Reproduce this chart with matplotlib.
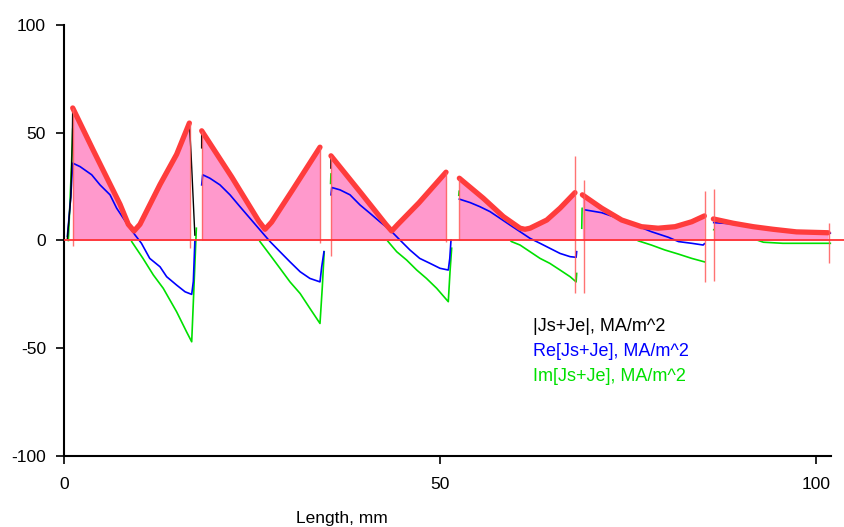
import matplotlib
matplotlib.use("Agg")
import matplotlib.pyplot as plt

plt.rcParams['font.family'] = ['Liberation Sans', 'DejaVu Sans']
plt.rcParams['axes.unicode_minus'] = False

# |Js+Je| smoothed envelope (red thick + pink fill), one list per conductor segment
abs_x = [
    [1.16, 3.9, 7.45, 8.55, 9.31, 10.1, 12.77, 14.98, 16.67],
    [18.31, 22.3, 25.9, 26.73, 27.6, 30.4, 34.04],
    [35.5, 39.5, 42.8, 43.57, 44.4, 47.2, 50.8],
    [52.57, 55.76, 58.42, 60.64, 61.3, 61.97, 64.2, 65.96, 67.95],
    [68.93, 71.5, 74.16, 76.8, 79.0, 81.25, 83.47, 85.15],
    [86.35, 89.0, 91.67, 94.3, 97.4, 101.6],
]
abs_y = [
    [61.5, 41.8, 16.8, 7.5, 4.4, 7.5, 26.0, 40.0, 54.5],
    [50.9, 29.5, 9.0, 5.2, 8.5, 23.5, 43.3],
    [39.3, 22.0, 7.5, 4.4, 7.5, 17.5, 31.7],
    [28.9, 19.6, 11.1, 5.7, 5.2, 5.7, 9.5, 15.0, 22.2],
    [21.2, 15.0, 9.5, 6.4, 5.7, 6.4, 8.7, 11.4],
    [10.0, 8.0, 6.4, 5.2, 4.0, 3.6],
]

# |Js+Je| raw (thin black)
raw_x = [
    [0.45, 0.9, 1.1, 1.16, 3.9, 7.45, 8.55, 9.31, 10.1, 12.77, 14.98, 16.67, 16.9, 17.4],
    [18.3, 18.31, 22.3, 25.9, 26.73, 27.6, 30.4, 34.04],
    [35.48, 35.5, 39.5, 42.8, 43.57, 44.4, 47.2, 50.8],
    [52.57, 55.76, 58.42, 60.64, 61.3, 61.97, 64.2, 65.96, 67.95],
    [68.93, 71.5, 74.16, 76.8, 79.0, 81.25, 83.47, 85.15],
    [86.35, 89.0, 91.67, 94.3, 97.4, 101.6],
]
raw_y = [
    [1.0, 20.0, 45.0, 62.0, 42.0, 17.2, 7.0, 4.0, 7.0, 26.5, 40.5, 54.8, 40.0, 2.5],
    [43.0, 51.2, 29.8, 8.7, 4.8, 8.2, 24.0, 43.6],
    [33.6, 39.6, 22.4, 7.2, 4.0, 7.2, 18.2, 32.0],
    [29.0, 19.8, 11.0, 5.3, 4.8, 5.3, 9.3, 15.2, 22.4],
    [21.6, 14.4, 9.0, 6.0, 5.3, 6.0, 8.5, 11.6],
    [10.0, 8.2, 6.8, 5.6, 4.2, 3.6],
]

# Re[Js+Je] (blue)
re_x = [
    [0.45, 0.9, 1.16, 2.13, 3.68, 4.79, 6.12, 7.0, 8.33, 9.44, 10.3, 11.4, 12.77, 13.65, 14.98, 16.1, 16.98, 17.2, 17.4],
    [18.31, 18.44, 19.4, 20.74, 22.07, 23.4, 24.73, 26.06, 27.4, 28.72, 30.05, 31.4, 32.7, 34.04, 34.27, 34.57],
    [35.5, 35.6, 36.7, 38.03, 39.36, 40.7, 42.0, 43.35, 44.68, 46.0, 47.3, 48.67, 50.0, 51.1, 51.3, 51.46],
    [52.57, 54.0, 55.3, 56.65, 57.98, 59.3, 60.64, 61.97, 63.3, 64.6, 65.96, 67.3, 68.1, 68.17],
    [69.3, 71.5, 73.7, 75.9, 78.1, 80.36, 81.7, 83.47, 85.0, 85.15],
    [86.4, 89.0, 91.67, 94.3, 97.4, 101.9],
]
re_y = [
    [2.0, 20.0, 35.9, 34.3, 30.5, 25.8, 21.2, 15.0, 8.0, 2.6, -1.3, -8.3, -12.2, -16.8, -20.7, -23.8, -25.0, -19.0, -0.5],
    [25.8, 30.5, 28.9, 25.8, 21.2, 15.7, 10.3, 4.9, -0.5, -5.2, -9.9, -14.5, -17.6, -19.2, -12.2, -5.2],
    [21.2, 24.6, 23.5, 21.2, 16.5, 12.6, 8.7, 4.9, 0.2, -4.4, -8.3, -10.6, -12.9, -13.7, -8.3, 0.2],
    [19.2, 17.6, 15.7, 13.4, 10.3, 7.2, 4.1, 1.0, -1.3, -3.6, -6.0, -7.5, -7.8, -5.2],
    [14.2, 12.9, 10.3, 7.2, 4.1, 1.5, -0.5, -1.3, -2.1, -1.5],
    [8.3, 7.7, 6.6, 5.3, 4.2, 3.4],
]

# Im[Js+Je] (green)
im_x = [
    [0.58, 1.0, 1.16, 3.68, 6.12, 8.33, 9.0, 10.5, 11.88, 13.2, 14.98, 16.3, 16.98, 17.2, 17.6],
    [18.4, 22.0, 24.7, 26.06, 27.4, 28.72, 30.05, 31.4, 32.7, 34.04, 34.35, 34.6],
    [35.45, 35.5, 38.0, 41.0, 43.1, 44.24, 45.57, 46.9, 48.2, 49.56, 51.1, 51.33, 51.55],
    [52.5, 52.55, 55.5, 58.0, 59.5, 60.64, 61.97, 63.3, 64.6, 65.96, 67.3, 68.1, 68.17],
    [68.85, 68.9, 71.5, 74.0, 76.4, 78.1, 79.9, 81.7, 83.47, 85.15],
    [86.4, 89.0, 91.5, 93.0, 95.6, 101.9],
]
im_y = [
    [0.0, 35.0, 52.0, 31.0, 16.0, 7.0, -0.5, -8.3, -16.0, -22.2, -33.1, -42.4, -47.0, -28.5, 5.7],
    [43.0, 23.0, 8.0, -0.5, -6.7, -12.9, -19.2, -24.6, -31.5, -38.5, -21.5, -5.2],
    [26.5, 31.0, 21.0, 9.0, -0.5, -5.2, -9.1, -13.7, -17.6, -22.2, -28.4, -14.5, -3.6],
    [21.0, 23.0, 13.0, 5.0, -0.5, -2.1, -5.2, -8.3, -10.6, -13.7, -16.8, -19.2, -15.3],
    [5.7, 15.0, 9.0, 4.0, -0.2, -2.1, -4.4, -6.3, -8.3, -9.9],
    [5.0, 3.0, 1.0, -0.8, -1.3, -1.3],
]

# thin segment boundary markers: position, lower end, upper end
mark_x = [1.16, 16.75, 18.31, 34.04, 35.5, 50.8, 52.57, 68.0, 69.1, 85.2, 86.4, 101.7]
mark_lo = [-2.5, -3.7, 0.0, -1.0, -7.0, -0.5, 0.0, -24.4, -24.4, -19.3, -18.9, -10.5]
mark_hi = [61.5, 54.5, 50.9, 43.3, 39.3, 31.7, 28.9, 39.2, 28.1, 23.0, 23.8, 8.0]

legend_labels = ["|Js+Je|, MA/m^2", "Re[Js+Je], MA/m^2", "Im[Js+Je], MA/m^2"]
legend_colors = ["#000000", "#0000ff", "#00e000"]

W, H = 844, 527
fig = plt.figure(figsize=(W / 100, H / 100), dpi=100)
ax = fig.add_axes([64 / W, 1 - 456 / H, (W - 64) / W, (456 - 25) / H])
ax.set_xlim(0, 103.72)
ax.set_ylim(-100, 100)

for xs, ys in zip(im_x, im_y):
    ax.plot(xs, ys, color="#00e000", lw=1.2, zorder=1)
for xs, ys in zip(abs_x, abs_y):
    ax.fill_between(xs, 0, ys, color="#ff99cc", lw=0, zorder=2)
for xs, ys in zip(re_x, re_y):
    ax.plot(xs, ys, color="#0000ff", lw=1.2, zorder=3)
for xs, ys in zip(raw_x, raw_y):
    ax.plot(xs, ys, color="#000000", lw=1.0, zorder=4)
for xs, ys in zip(abs_x, abs_y):
    ax.plot(xs, ys, color="#ff3c3c", lw=3.8, zorder=5, solid_capstyle="round",
            solid_joinstyle="round")
ax.vlines(mark_x, mark_lo, mark_hi, color="#ff5a5a", lw=1.0, alpha=0.85, zorder=6)
ax.axhline(0, color="#ff3333", lw=1.3, zorder=6)

for i, (lab, col) in enumerate(zip(legend_labels, legend_colors)):
    ax.text(62.3, -42.0 - 11.6 * i, lab, color=col, fontsize=13,
            ha="left", va="baseline", zorder=7)

for s in ("top", "right"):
    ax.spines[s].set_visible(False)
for s in ("left", "bottom"):
    ax.spines[s].set_linewidth(1.5)
ax.spines["bottom"].set_bounds(0, 102.0)
ax.set_xticks([0, 50, 100])
ax.set_yticks([-100, -50, 0, 50, 100])
ax.tick_params(axis="both", direction="out", length=6, width=1.2, labelsize=12.5)
ax.tick_params(axis="y", pad=7)
ax.tick_params(axis="x", pad=9)

fig.text(342 / W, 1 - 511 / H, "Length, mm", ha="center", va="top", fontsize=12.5)

fig.savefig("out.png", dpi=100)
